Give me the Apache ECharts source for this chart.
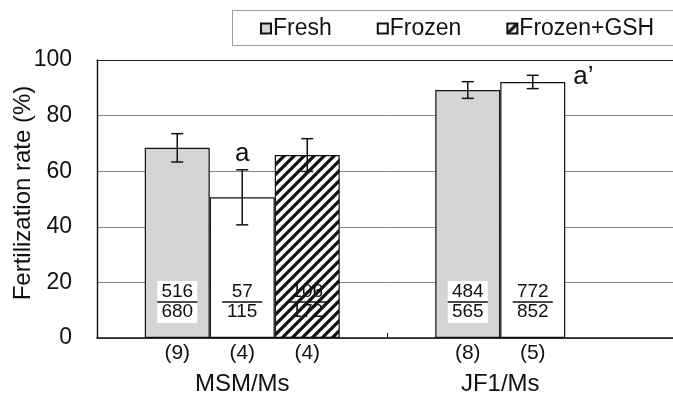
<!DOCTYPE html>
<html>
<head>
<meta charset="utf-8">
<script src="https://cdn.jsdelivr.net/npm/echarts@6/dist/echarts.min.js"></script>
<style>
html,body{margin:0;padding:0;background:#fff;}
#chart{width:673px;height:405px;}
</style>
</head>
<body>
<div id="chart"></div>
<script>
// ---- data ----
const categories = ['MSM/Ms', 'JF1/Ms'];
const seriesNames = ['Fresh', 'Frozen', 'Frozen+GSH'];
const freshRate = [68.4, 89.2];
const frozenRate = [50.6, 92.1];
const gshRate = [65.8, null];
const freshErr = [5.1, 3.0];
const frozenErr = [9.9, 2.4];
const gshErr = [5.9, null];
const freshFrac = [[516, 680], [484, 565]];
const frozenFrac = [[57, 115], [772, 852]];
const gshFrac = [[106, 172], null];
const freshN = [9, 8];
const frozenN = [4, 5];
const gshN = [4, null];
const frozenMark = ['a', 'a\u2019'];
const yTicks = [0, 20, 40, 60, 80, 100];

const rates = [freshRate, frozenRate, gshRate];
const errs = [freshErr, frozenErr, gshErr];
const fracs = [freshFrac, frozenFrac, gshFrac];
const ns = [freshN, frozenN, gshN];
const marks = [null, frozenMark, null];

const FONT = "'Liberation Sans', Arial, sans-serif";
const BAR_W = 65;

function hatch() {
  const s = 10;
  const c = document.createElement('canvas');
  c.width = s; c.height = s;
  const g = c.getContext('2d');
  g.fillStyle = '#fff'; g.fillRect(0, 0, s, s);
  g.strokeStyle = '#111'; g.lineWidth = 3.3;
  g.beginPath();
  g.moveTo(-2, s + 2); g.lineTo(s + 2, -2);
  g.moveTo(-2, 2); g.lineTo(2, -2);
  g.moveTo(s - 2, s + 2); g.lineTo(s + 2, s - 2);
  g.stroke();
  return c;
}

const fills = ['#d4d4d4', '#ffffff', { image: hatch(), repeat: 'repeat' }];
const labelBg = ['#ffffff', 'transparent', 'transparent'];

function barCenterX(api, ci, si) {
  return api.coord([ci, 0])[0] + (si - (rates.length - 1) / 2) * BAR_W;
}

const items = [];
categories.forEach((c, ci) => rates.forEach((r, si) => { if (r[ci] != null) items.push({ ci, si }); }));

const barSeries = seriesNames.map((name, si) => ({
  name,
  type: 'bar',
  barWidth: BAR_W,
  barGap: '0%',
  data: rates[si],
  itemStyle: { color: fills[si], borderColor: '#111', borderWidth: 1.2 },
  label: {
    show: true,
    position: 'insideBottom',
    distance: 15,
    backgroundColor: labelBg[si],
    padding: [1, 0],
    align: 'center',
    formatter: p => {
      const f = fracs[si][p.dataIndex];
      if (!f) return '';
      return '{n|' + f[0] + '}\n{hr|}\n{n|' + f[1] + '}';
    },
    rich: {
      n: { fontSize: 19, lineHeight: 20, color: '#111', fontFamily: FONT, align: 'center' },
      hr: { width: 40, height: 0, borderColor: '#111', borderWidth: 1, align: 'center' }
    }
  },
  z: 2
}));

const errSeries = {
  type: 'custom',
  data: items.map(it => [it.ci, rates[it.si][it.ci]]),
  z: 5,
  silent: true,
  renderItem: (params, api) => {
    const it = items[params.dataIndex];
    const v = rates[it.si][it.ci], e = errs[it.si][it.ci];
    const x = barCenterX(api, it.ci, it.si);
    const yT = api.coord([it.ci, v + e])[1];
    const yB = api.coord([it.ci, v - e])[1];
    const yV = api.coord([it.ci, v])[1];
    const y0 = api.coord([it.ci, 0])[1];
    const st = { stroke: '#111', lineWidth: 1.5 };
    const ch = [
      { type: 'line', shape: { x1: x, y1: yT, x2: x, y2: yB }, style: st },
      { type: 'line', shape: { x1: x - 6, y1: yT, x2: x + 6, y2: yT }, style: st },
      { type: 'line', shape: { x1: x - 6, y1: yB, x2: x + 6, y2: yB }, style: st },
      { type: 'text', style: { text: '(' + ns[it.si][it.ci] + ')', x: x, y: y0 + 15, align: 'center', verticalAlign: 'middle', fontSize: 21, fontFamily: FONT, fill: '#111' } }
    ];
    const m = marks[it.si] && marks[it.si][it.ci];
    if (m) {
      const next = rates[it.si + 1];
      const hasRight = next && next[it.ci] != null;
      if (hasRight) {
        ch.push({ type: 'text', style: { text: m, x: x, y: yT - 3, align: 'center', verticalAlign: 'bottom', fontSize: 26, fontFamily: FONT, fill: '#111' } });
      } else {
        ch.push({ type: 'text', style: { text: m, x: x + BAR_W / 2 + 8, y: yV + 8, align: 'left', verticalAlign: 'bottom', fontSize: 26, fontFamily: FONT, fill: '#111' } });
      }
    }
    return { type: 'group', children: ch };
  }
};

const groupSeries = {
  type: 'custom',
  data: categories.map((c, ci) => [ci, 0]),
  silent: true,
  z: 5,
  renderItem: (params, api) => {
    const ci = params.dataIndex;
    const xs = [];
    rates.forEach((r, si) => { if (r[ci] != null) xs.push(barCenterX(api, ci, si)); });
    const x = xs.reduce((a, b) => a + b, 0) / xs.length;
    const y0 = api.coord([ci, 0])[1];
    return { type: 'text', style: { text: categories[ci], x: x, y: y0 + 46, align: 'center', verticalAlign: 'middle', fontSize: 24, fontFamily: FONT, fill: '#111' } };
  }
};

const chart = echarts.init(document.getElementById('chart'), null, { renderer: 'canvas' });
chart.setOption({
  animation: false,
  backgroundColor: '#fff',
  textStyle: { fontFamily: FONT },
  graphic: [{
    type: 'rect',
    left: 232, top: 10,
    shape: { width: 470, height: 35 },
    style: { fill: '#fff', stroke: '#999', lineWidth: 1 },
    z: -1,
    silent: true
  }],
  legend: {
    data: seriesNames,
    left: 232,
    top: 11,
    padding: [6, 0, 6, 28],
    itemGap: 45,
    itemWidth: 10,
    itemHeight: 10,
    icon: 'rect',
    textStyle: { fontSize: 23, color: '#111', fontFamily: FONT, padding: [0, 0, 0, -3] }
  },
  grid: {
    left: 97, right: -5, top: 60, bottom: 67,
    show: false,
    outerBoundsMode: 'none',
    containLabel: false
  },
  xAxis: [{
    type: 'category',
    data: categories,
    axisLine: { lineStyle: { color: '#111', width: 1.6 } },
    axisTick: { show: true, inside: true, length: 5, lineStyle: { color: '#111' } },
    axisLabel: { show: false },
    splitLine: { show: false }
  }, {
    type: 'category',
    data: categories,
    position: 'top',
    axisLine: { show: true, lineStyle: { color: '#222', width: 1.2 } },
    axisTick: { show: false },
    axisLabel: { show: false },
    splitLine: { show: false }
  }],
  yAxis: {
    type: 'value',
    min: yTicks[0],
    max: yTicks[yTicks.length - 1],
    interval: yTicks[1] - yTicks[0],
    name: 'Fertilization rate (%)',
    nameLocation: 'middle',
    nameGap: 62,
    nameMoveOverlap: false,
    nameTextStyle: { fontSize: 24, color: '#111', fontFamily: FONT, padding: [0, 0, 0, 12] },
    axisLine: { show: true, lineStyle: { color: '#111', width: 1.4 } },
    axisTick: { show: false },
    axisLabel: { fontSize: 23, color: '#111', margin: 25, fontFamily: FONT },
    splitLine: { show: true, lineStyle: { color: '#888', width: 1 } }
  },
  series: [...barSeries, errSeries, groupSeries]
});
</script>
</body>
</html>
